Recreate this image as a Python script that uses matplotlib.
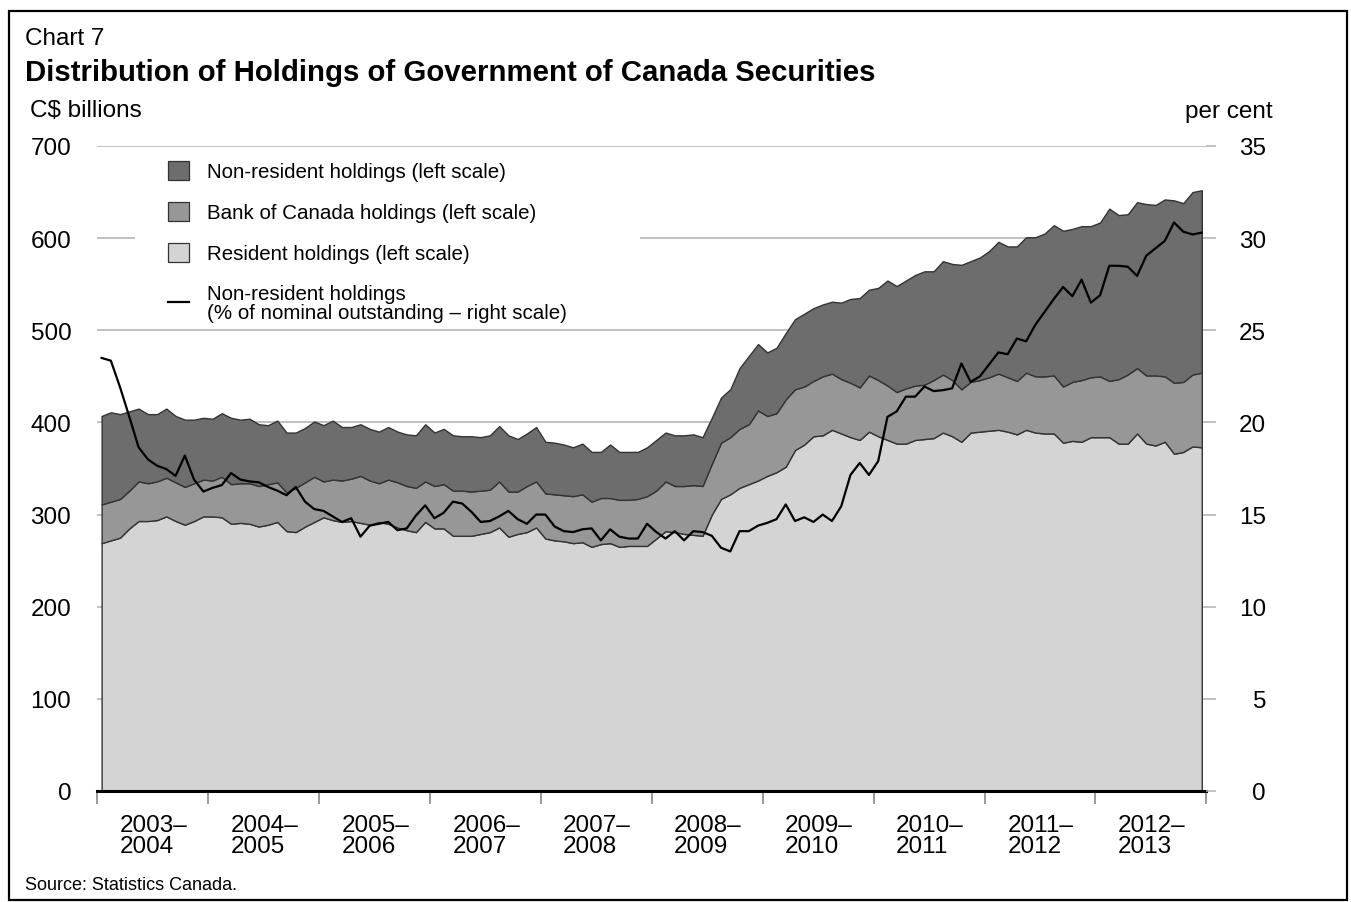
import matplotlib
matplotlib.use('Agg')
import matplotlib.pyplot as plt
from matplotlib.patches import Patch, Rectangle
from matplotlib.lines import Line2D
import numpy as np

plt.rcParams['font.family'] = ['Liberation Sans', 'DejaVu Sans']

# fiscal years, monthly data April 2003 - March 2013
fiscal_years = ['2003–\n2004', '2004–\n2005', '2005–\n2006', '2006–\n2007', '2007–\n2008',
                '2008–\n2009', '2009–\n2010', '2010–\n2011', '2011–\n2012', '2012–\n2013']

# C$ billions, stacked levels (top of each band)
resident = [269, 272, 275, 285, 293, 293, 294, 298, 293, 289, 293, 298,
            298, 297, 290, 291, 290, 287, 289, 292, 282, 281, 287, 292,
            297, 294, 292, 293, 291, 289, 292, 290, 286, 283, 281, 292,
            285, 285, 277, 277, 277, 279, 281, 286, 276, 279, 281, 286,
            274, 272, 271, 269, 270, 265, 268, 269, 265, 266, 266, 266,
            274, 282, 281, 279, 278, 277, 300, 317, 322, 329, 333, 337,
            342, 346, 352, 370, 376, 385, 386, 392, 388, 384, 381, 390,
            385, 381, 377, 377, 381, 382, 383, 389, 385, 379, 389, 390,
            391, 392, 390, 387, 392, 389, 388, 388, 378, 380, 379, 384,
            384, 384, 377, 377, 388, 377, 375, 379, 366, 368, 374, 373]

resident_and_boc = [311, 314, 317, 326, 336, 334, 336, 340, 335, 330, 334, 338,
                    337, 341, 333, 334, 334, 331, 333, 335, 324, 329, 335, 341,
                    336, 338, 337, 339, 342, 337, 334, 338, 335, 331, 329, 336,
                    331, 333, 326, 326, 325, 326, 327, 336, 325, 325, 331, 336,
                    323, 322, 321, 320, 322, 314, 318, 318, 316, 316, 317, 320,
                    326, 336, 331, 331, 332, 331, 355, 378, 384, 393, 398, 413,
                    407, 410, 425, 436, 439, 445, 450, 453, 447, 443, 438, 451,
                    446, 440, 433, 437, 440, 441, 446, 452, 446, 436, 444, 446,
                    449, 453, 449, 445, 454, 450, 450, 451, 439, 444, 446, 449,
                    450, 445, 447, 452, 459, 451, 451, 450, 443, 444, 452, 454]

total = [407, 411, 409, 412, 415, 409, 409, 415, 407, 403, 403, 405,
         404, 410, 405, 403, 404, 398, 397, 402, 389, 389, 394, 401,
         397, 402, 395, 395, 398, 393, 390, 395, 390, 387, 386, 398,
         389, 393, 386, 385, 385, 384, 386, 396, 386, 382, 388, 395,
         379, 378, 376, 373, 377, 368, 368, 376, 368, 368, 368, 373,
         381, 389, 386, 386, 387, 384, 405, 427, 436, 459, 472, 485,
         476, 481, 497, 512, 518, 524, 528, 531, 530, 534, 535, 544,
         546, 554, 548, 554, 560, 564, 564, 575, 572, 571, 575, 579,
         586, 596, 591, 591, 601, 601, 605, 614, 608, 610, 613, 613,
         617, 632, 625, 626, 639, 637, 636, 642, 641, 638, 650, 652]

# per cent of nominal outstanding
non_resident_pct = [23.5, 23.35, 21.9, 20.3, 18.65, 18.0, 17.65, 17.47, 17.1, 18.2, 16.9, 16.25,
                    16.45, 16.6, 17.25, 16.9, 16.8, 16.75, 16.5, 16.3, 16.05, 16.5, 15.7, 15.3,
                    15.2, 14.9, 14.6, 14.8, 13.8, 14.4, 14.5, 14.6, 14.15, 14.25, 14.95, 15.5,
                    14.8, 15.1, 15.7, 15.6, 15.15, 14.6, 14.65, 14.9, 15.2, 14.75, 14.5, 15.0,
                    15.0, 14.35, 14.1, 14.05, 14.2, 14.25, 13.6, 14.2, 13.8, 13.7, 13.7, 14.5,
                    14.05, 13.7, 14.1, 13.6, 14.1, 14.05, 13.85, 13.2, 13.0, 14.1, 14.1, 14.4,
                    14.55, 14.75, 15.55, 14.65, 14.85, 14.6, 15.0, 14.65, 15.45, 17.15, 17.8, 17.15,
                    17.9, 20.3, 20.6, 21.4, 21.4, 21.95, 21.7, 21.75, 21.85, 23.2, 22.2, 22.5,
                    23.15, 23.8, 23.7, 24.55, 24.4, 25.3, 26.0, 26.7, 27.35, 26.85, 27.75, 26.5,
                    26.9, 28.5, 28.5, 28.45, 27.95, 29.05, 29.45, 29.85, 30.85, 30.35, 30.2, 30.3]

dark = '#6d6d6d'
mid = '#979797'
light = '#d4d4d4'
edge = '#333333'
grid = '#b0b0b0'

W, H = 1351, 903
fig = plt.figure(figsize=(W / 100, H / 100), dpi=100)
ax = fig.add_axes([97 / W, 111 / H, 1109.4 / W, 645 / H])

x = np.arange(len(total))
ax.fill_between(x, 0, resident, facecolor=light, edgecolor=edge, lw=1.0, zorder=2)
ax.fill_between(x, resident, resident_and_boc, facecolor=mid, edgecolor=edge, lw=1.0, zorder=2)
ax.fill_between(x, resident_and_boc, total, facecolor=dark, edgecolor=edge, lw=1.0, zorder=2)

ax.set_xlim(-0.5, 119.5)
ax.set_ylim(0, 700)
ax.set_yticks(range(0, 701, 100))
ax.yaxis.grid(True, color=grid, lw=1.1)
ax.set_axisbelow(True)
ax.tick_params(axis='y', length=0, pad=18.5, labelsize=17.5)
ax.set_xticks(np.arange(-0.5, 120, 12))
ax.set_xticklabels([])
ax.tick_params(axis='x', length=9, width=1.4, color='#999999')
for s in ['top', 'left', 'right']:
    ax.spines[s].set_visible(False)
ax.spines['bottom'].set_linewidth(2.2)
ax.spines['bottom'].set_zorder(3)

for k, lab in enumerate(fiscal_years):
    ax.text(12 * k + 5.6, -0.036, lab, transform=ax.get_xaxis_transform(),
            ha='center', va='top', multialignment='left', linespacing=0.95, fontsize=17.5)

ax2 = ax.twinx()
ax2.plot(x, non_resident_pct, color='black', lw=1.6)
ax2.set_ylim(0, 35)
ax2.set_yticks(range(0, 36, 5))
ax2.tick_params(axis='y', length=7, width=1.1, color=grid, pad=36, labelsize=17.5)
for lab in ax2.get_yticklabels():
    lab.set_horizontalalignment('right')
for s in ax2.spines.values():
    s.set_visible(False)

# white box behind the legend
ax.add_patch(Rectangle((0.0343, 0.7225), 0.455, 0.2729, transform=ax.transAxes,
                       facecolor='white', edgecolor='none', zorder=1))
handles = [Patch(facecolor=dark, edgecolor=edge, lw=0.9),
           Patch(facecolor=mid, edgecolor=edge, lw=0.9),
           Patch(facecolor=light, edgecolor=edge, lw=0.9),
           Line2D([], [], color='black', lw=1.6)]
labels = ['Non-resident holdings (left scale)',
          'Bank of Canada holdings (left scale)',
          'Resident holdings (left scale)',
          'Non-resident holdings\n(% of nominal outstanding – right scale)']
leg = ax.legend(handles, labels, loc='upper left', bbox_to_anchor=(0.064, (792 - 162) / 645),
                frameon=False, fontsize=14.8, handlelength=1.02, handleheight=1.02,
                handletextpad=0.86, labelspacing=1.0, borderpad=0, borderaxespad=0)
for t in leg.get_texts():
    t.set_linespacing(1.0)

fig.text(25 / W, 1 - 45 / H, 'Chart 7', fontsize=17.5, va='baseline')
fig.text(25 / W, 1 - 81 / H, 'Distribution of Holdings of Government of Canada Securities',
         fontsize=21.2, fontweight='bold', va='baseline')
fig.text(30 / W, 1 - 117 / H, 'C$ billions', fontsize=17.5, va='baseline')
fig.text(1273 / W, 1 - 118 / H, 'per cent', fontsize=17.5, va='baseline', ha='right')
fig.text(25 / W, 1 - 890 / H, 'Source: Statistics Canada.', fontsize=13, va='baseline')

fig.add_artist(Rectangle((9 / W, 1 - 901 / H), 1338 / W, 889 / H, transform=fig.transFigure,
                         fill=False, edgecolor='black', lw=1.6))

fig.savefig('out.png', dpi=100)
